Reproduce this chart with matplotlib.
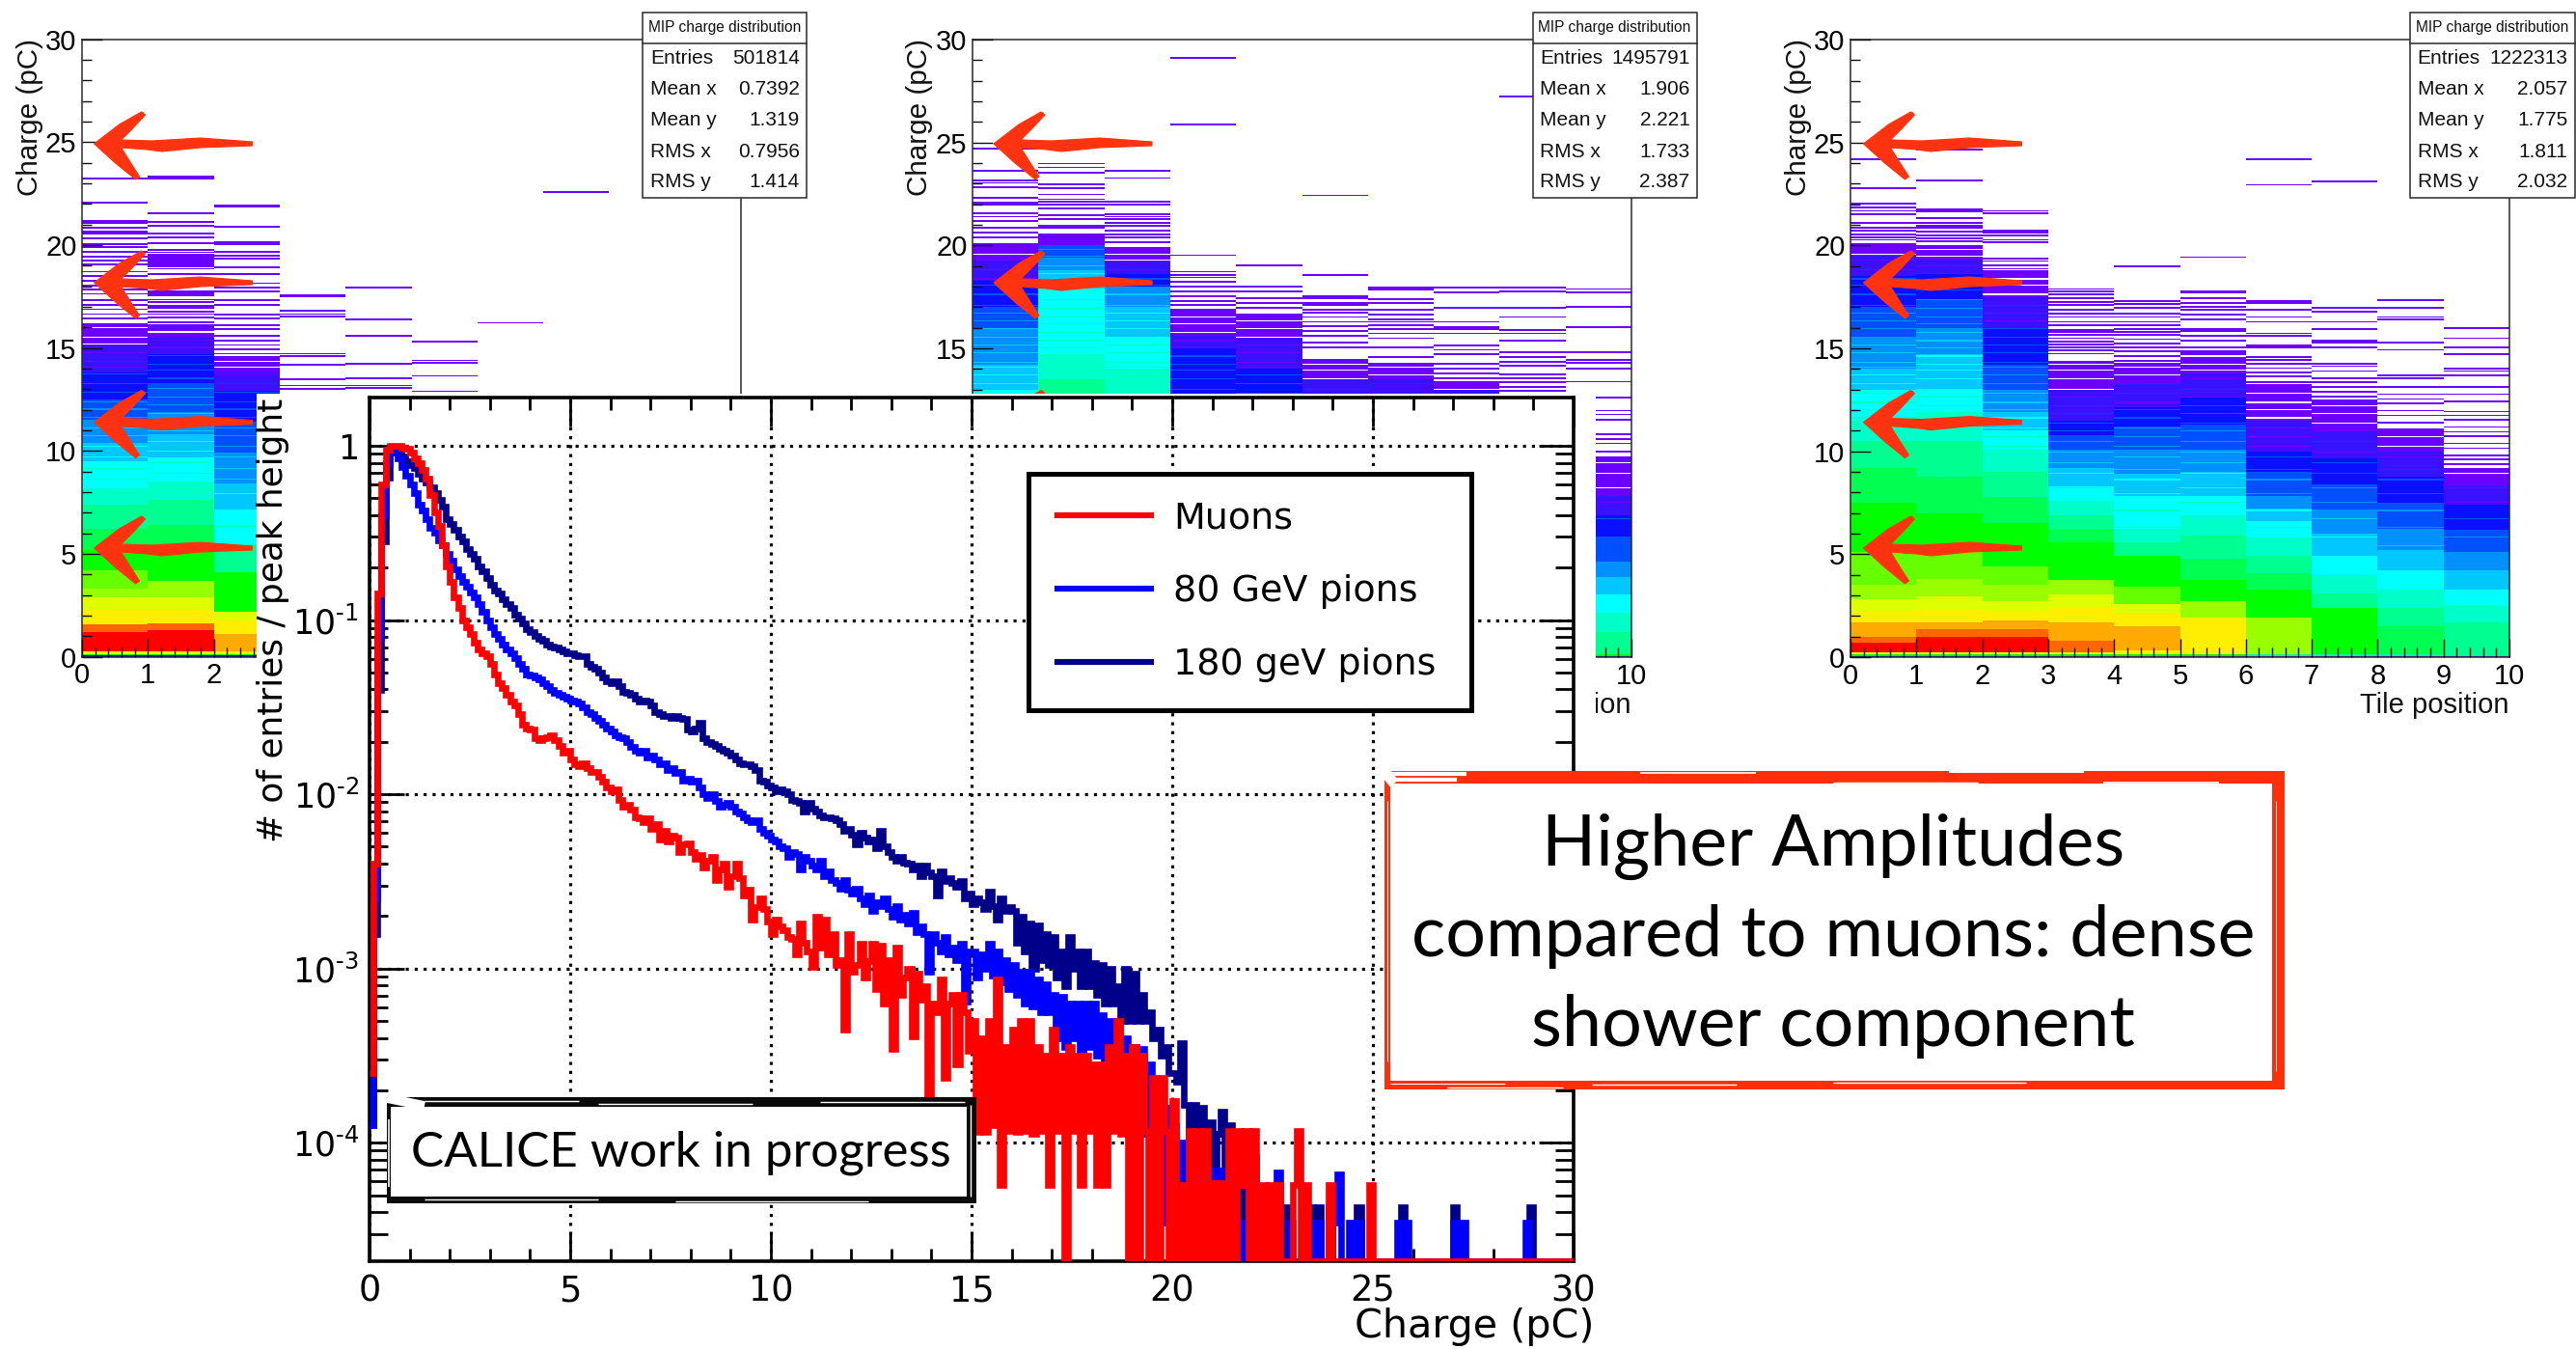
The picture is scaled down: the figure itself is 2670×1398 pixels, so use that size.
import numpy as np
import matplotlib
matplotlib.use("Agg")
import matplotlib.pyplot as plt
import matplotlib.ticker as mticker
from matplotlib.patches import Rectangle, Polygon

W, H = 2670, 1398
DPI = 100

# ---------- main plot data: log10(entries / peak height) per 0.1 pC bin ----------
Z = -4.68  # empty bin (drawn on the lower axis edge)
bin_width = 0.1
muons_log = [
 -3.6,-2.4,-.85,-.22,-.02,0,0,0,-.01,-.018,
 -.04,-.07,-.10,-.14,-.19,-.28,-.38,-.46,-.57,-.69,
 -.78,-.87,-.93,-1.0,-1.04,-1.08,-1.13,-1.17,-1.19,-1.21,
 -1.25,-1.31,-1.36,-1.39,-1.43,-1.47,-1.49,-1.54,-1.6,-1.62,
 -1.63,-1.68,-1.69,-1.68,-1.67,-1.66,-1.69,-1.72,-1.76,-1.75,
 -1.80,-1.83,-1.84,-1.82,-1.85,-1.87,-1.87,-1.90,-1.93,-1.96,
 -1.98,-1.97,-2.03,-2.07,-2.06,-2.09,-2.13,-2.14,-2.16,-2.14,
 -2.2,-2.17,-2.26,-2.21,-2.27,-2.24,-2.25,-2.33,-2.29,-2.28,
 -2.33,-2.37,-2.35,-2.42,-2.38,-2.36,-2.49,-2.43,-2.40,-2.53,
 -2.47,-2.40,-2.48,-2.58,-2.55,-2.72,-2.65,-2.60,-2.66,-2.73,
 -2.80,-2.72,-2.76,-2.78,-2.82,-2.83,-2.92,-2.74,-2.85,-2.90,
 -2.99,-2.70,-2.88,-2.72,-2.92,-2.80,-2.98,-2.95,-3.35,-2.80,
 -3.02,-2.98,-2.86,-3.05,-2.96,-2.86,-3.12,-2.87,-3.2,-2.95,
 -3.46,-2.88,-3.15,-3.05,-3.0,-3.39,-3.03,-3.18,-3.1,-3.76,
 -3.2,-3.25,-3.06,-3.63,-3.2,-3.15,-3.55,-3.15,-3.25,-3.47,
 -3.3,-3.94,-3.4,-3.94,-3.3,-3.9,-3.06,-4.24,-3.45,-3.93,
 -3.35,-3.94,-3.3,-3.93,-3.3,-3.95,-3.45,-3.93,-3.5,-4.24,
 -3.35,-3.93,-3.5,Z,-3.45,-3.93,-3.5,-4.24,-3.5,-3.93,
 -3.55,-4.24,-3.55,-4.24,-3.45,-3.93,-3.3,-3.95,-3.5,Z,
 -3.45,Z,-3.5,-3.93,Z,-3.63,Z,-3.63,-3.93,Z,
 -3.76,Z,-4.24,Z,-3.93,Z,-3.93,Z,-3.93,Z,
 -4.23,Z,-4.23,Z,-3.93,Z,-3.93,-4.24,-3.93,Z,
 -3.93,Z,-4.24,Z,-4.24,Z,-4.24,Z,Z,Z,
 -4.24,-3.93,Z,-4.24,Z,Z,Z,Z,Z,-4.24,
 Z,Z,Z,Z,Z,Z,Z,Z,Z,-4.24,
 Z,Z,Z,Z,Z,Z,Z,Z,Z,Z,
 Z,Z,Z,Z,Z,Z,Z,Z,Z,Z,
 Z,Z,Z,Z,Z,Z,Z,Z,Z,Z,
 Z,Z,Z,Z,Z,Z,Z,Z,Z,Z,
 Z,Z,Z,Z,Z,Z,Z,Z,Z,Z,
]
pions80_log = [
 -3.9,-2.6,-1.1,-.4,-.1,-.02,-.02,-.07,-.12,-.17,
 -.22,-.27,-.34,-.37,-.42,-.47,-.5,-.54,-.57,-.62,
 -.66,-.71,-.75,-.78,-.81,-.84,-.87,-.91,-.95,-1.0,
 -1.04,-1.08,-1.11,-1.14,-1.17,-1.19,-1.22,-1.25,-1.28,-1.31,
 -1.32,-1.33,-1.34,-1.36,-1.38,-1.4,-1.42,-1.43,-1.44,-1.45,
 -1.46,-1.47,-1.48,-1.5,-1.53,-1.54,-1.56,-1.58,-1.6,-1.62,
 -1.64,-1.66,-1.67,-1.68,-1.7,-1.73,-1.75,-1.76,-1.75,-1.79,
 -1.78,-1.8,-1.83,-1.82,-1.86,-1.85,-1.88,-1.87,-1.92,-1.91,
 -1.93,-1.92,-1.96,-2.0,-2.02,-2.0,-2.04,-2.07,-2.06,-2.05,
 -2.07,-2.1,-2.11,-2.13,-2.15,-2.16,-2.15,-2.2,-2.22,-2.24,
 -2.26,-2.27,-2.3,-2.31,-2.36,-2.33,-2.34,-2.43,-2.36,-2.38,
 -2.41,-2.43,-2.38,-2.47,-2.44,-2.49,-2.51,-2.54,-2.49,-2.55,
 -2.57,-2.54,-2.6,-2.63,-2.58,-2.67,-2.62,-2.64,-2.6,-2.66,
 -2.7,-2.64,-2.72,-2.69,-2.74,-2.68,-2.79,-2.76,-2.8,-3.02,
 -2.8,-2.85,-2.9,-2.82,-2.92,-2.88,-2.95,-2.86,-3.19,-2.9,
 -2.9,-3.05,-2.92,-3.0,-2.86,-3.04,-2.9,-3.08,-2.95,-3.12,
 -2.98,-3.15,-3.02,-3.2,-3.02,-3.22,-3.06,-3.25,-3.09,-3.25,
 -3.15,-3.4,-3.16,-3.45,-3.2,-3.4,-3.2,-3.5,-3.2,-3.45,
 -3.2,-3.5,-3.27,-3.6,-3.3,-3.7,-3.3,-3.75,-3.4,-3.8,
 -3.45,-3.9,-3.46,-3.95,-3.55,-4.0,-3.72,-4.46,-3.8,-4.16,
 -3.9,Z,-4.0,Z,-4.16,-4.0,Z,-4.0,Z,-4.16,
 Z,-4.16,Z,-4.46,-4.16,-4.17,Z,-4.46,Z,-4.46,
 Z,Z,Z,-4.46,Z,-4.46,-4.17,Z,Z,-4.46,
 Z,Z,Z,Z,-4.46,Z,-4.46,Z,Z,Z,
 -4.46,-4.18,Z,Z,-4.46,Z,-4.46,Z,Z,Z,
 Z,Z,Z,Z,Z,Z,-4.46,Z,-4.46,Z,
 Z,Z,Z,Z,Z,Z,Z,Z,Z,Z,
 -4.46,Z,-4.46,Z,Z,Z,Z,Z,Z,Z,
 Z,Z,Z,Z,Z,Z,Z,Z,-4.46,Z,
 Z,Z,Z,Z,Z,Z,Z,Z,Z,Z,
]
pions180_log = [
 -3.9,-2.8,-1.4,-.55,-.18,-.04,-.01,-.03,-.06,-.09,
 -.11,-.13,-.16,-.19,-.21,-.24,-.27,-.31,-.35,-.42,
 -.45,-.48,-.52,-.55,-.59,-.62,-.65,-.69,-.72,-.76,
 -.8,-.83,-.85,-.88,-.91,-.93,-.97,-.99,-1.02,-1.05,
 -1.07,-1.09,-1.11,-1.12,-1.14,-1.15,-1.16,-1.17,-1.18,-1.19,
 -1.19,-1.2,-1.21,-1.21,-1.25,-1.27,-1.28,-1.3,-1.33,-1.35,
 -1.36,-1.35,-1.38,-1.41,-1.42,-1.43,-1.45,-1.47,-1.46,-1.47,
 -1.49,-1.53,-1.54,-1.55,-1.55,-1.56,-1.55,-1.56,-1.57,-1.63,
 -1.64,-1.62,-1.59,-1.68,-1.7,-1.71,-1.72,-1.74,-1.75,-1.76,
 -1.78,-1.8,-1.82,-1.83,-1.83,-1.84,-1.86,-1.92,-1.93,-1.95,
 -1.96,-1.98,-1.97,-1.98,-2.0,-2.03,-2.04,-2.05,-2.1,-2.05,
 -2.08,-2.1,-2.12,-2.13,-2.13,-2.14,-2.15,-2.17,-2.21,-2.2,
 -2.23,-2.29,-2.22,-2.25,-2.27,-2.26,-2.31,-2.21,-2.3,-2.33,
 -2.36,-2.38,-2.36,-2.39,-2.4,-2.43,-2.41,-2.47,-2.41,-2.45,
 -2.47,-2.58,-2.44,-2.5,-2.48,-2.51,-2.53,-2.5,-2.6,-2.57,
 -2.63,-2.6,-2.62,-2.66,-2.56,-2.64,-2.72,-2.6,-2.67,-2.65,
 -2.67,-2.85,-2.7,-2.9,-2.74,-3.0,-2.75,-2.95,-2.8,-2.98,
 -2.82,-3.05,-2.9,-3.1,-2.82,-3.0,-2.9,-3.1,-2.9,-3.1,
 -2.97,-3.15,-2.98,-3.2,-3.0,-3.2,-3.1,-3.3,-3.0,-3.3,
 -3.03,-3.3,-3.15,-3.3,-3.25,-3.4,-3.35,-3.5,-3.45,-3.6,
 -3.6,-3.65,-3.43,-3.78,-4.2,-3.78,-4.2,-3.8,-4.3,-3.88,
 -4.3,-3.95,-3.82,-4.2,-3.9,-4.3,Z,-4.1,Z,-4.37,
 -4.08,Z,-4.37,Z,-4.37,Z,-4.37,Z,-4.37,Z,
 Z,Z,Z,Z,-4.37,Z,-4.37,Z,Z,-4.37,
 Z,Z,Z,Z,Z,Z,-4.37,Z,Z,Z,
 Z,Z,Z,Z,Z,Z,Z,-4.37,Z,Z,
 Z,Z,Z,Z,Z,Z,Z,Z,Z,Z,
 -4.37,Z,Z,Z,Z,Z,Z,Z,Z,Z,
 Z,Z,Z,Z,Z,Z,Z,Z,Z,-4.37,
 Z,Z,Z,Z,Z,Z,Z,Z,Z,Z,
]
series_labels = ["Muons", "80 GeV pions", "180 geV pions"]
series_colors = ["#ff0000", "#0000ff", "#00008b"]
main_xticks = [0, 5, 10, 15, 20, 25, 30]
main_yticks = [1, 1e-1, 1e-2, 1e-3, 1e-4]
main_yticklabels = ["1", r"$10^{\text{-}1}$", r"$10^{\text{-}2}$", r"$10^{\text{-}3}$", r"$10^{\text{-}4}$"]

# ---------- tile-position panels ----------
palette = ["#6a00ff", "#3a10ff", "#0a10ff", "#0050ff", "#0090ff", "#00c8ff", "#00ffff",
           "#00ffc8", "#00ff90", "#00ff50", "#00ff00", "#66ff00", "#99ff00", "#ddff00",
           "#ffee00", "#ffaa00", "#ff6600", "#ff0000"]

# each column: (upper charge edge, palette index), bottom to top
p1_bands = [
 [(.05,2),(.12,10),(.25,14),(1.2,17),(1.55,16),(2.3,14),(2.9,13),(3.3,12),(4.2,11),(5.2,10),(6.2,9),(7.4,8),(8.2,7),(9.5,6),(10.4,5),(11.5,4),(12.5,3),(13.8,2),(15.1,1),(16.2,0)],
 [(.05,2),(.12,10),(.25,14),(1.3,17),(1.6,16),(2.3,14),(2.9,13),(3.7,12),(5.2,10),(6.4,9),(7.6,8),(8.5,7),(9.7,6),(10.8,5),(11.9,4),(13.3,3),(14.7,2),(15.5,1),(16.3,0)],
 [(.05,2),(.12,10),(.25,14),(1.1,15),(1.76,14),(2.2,13),(4.1,10),(5.4,8),(7.1,6),(8.4,5),(9.9,4),(11.4,3),(12.9,2),(13.8,1),(14.6,0)],
 [], [], [], [], [], [], [],
]
p1_lines = [
 [23.18,22,21.13,21.02,20.8,20.6,20.5,20.27,20.0,19.84,19.63,19.4,19.2,19,18.66,18.44,18.2,18,17.8,17.58,17.26,17.04,16.83,16.6,16.4],
 [23.28,23.2,21.5,21.06,20.9,20.5,20.33,20.05,19.7,19.6,19.5,19.4,19.3,19.2,19.1,19.0,18.9,18.8,18.55,18.2,17.7,17.6,17.5,17.3,17.2,17.0,16.9,16.7,16.6,16.45],
 [21.88,21.84,20.85,20.1,20,19.63,19.45,19.3,18.87,18.55,18.1,17.9,17.7,17.26,17.04,16.57,16.4,16.07,15.86,15.54,15.32,15.1,14.9,14.68],
 [17.5,17.44,16.76,16.6,16.5,14.68,14.57,14.14,13.43,13.13,12.95],
 [17.9,16.35,15.54,14.18,13.5,13.13,13],
 [15.28,14.35,14.25,13.6,12.85],
 [16.18],
 [22.53],
 [], [],
]
p2_bands = [
 [(13,6),(14.2,5),(16,4),(17,3),(18.3,2),(19.3,1),(20.1,0)],
 [(13.5,8),(14.7,7),(17.9,6),(18.8,5),(19.4,4),(20.0,3),(20.6,0)],
 [(14,7),(15.5,6),(17,5),(18,4),(18.6,2),(19.2,1),(19.9,0)],
 [(15,2),(15.6,1),(16.9,0)],
 [(14,2),(15.5,1),(16.7,0)],
 [(13.5,1),(14.5,0)],
 [(13.5,1),(14.3,0)],
 [(13,1),(13.4,0)],
 [],
 [(.05,2),(.12,10),(1.2,8),(2.16,7),(3.07,6),(3.9,5),(4.66,4),(5.8,3),(6.9,2),(7.84,1),(9.77,0)],
]
p2_lines = [
 [24.66,23.57,23.1,23,22.77,22.27,22.05,21.93,21.52,21.36,21.14,20.8,20.57,20.34],
 [23.93,23.75,23.48,22.95,22.9,22.73,22.43,22.2,22.1,21.93,21.75,21.43,21.25,20.9,20.8],
 [23.57,23.23,22.07,21.93,21.48,21.36,21.25,21.07,20.9,20.68,20.5,20.34,20.11],
 [29.05,25.84,19.48,18.68,18.52,18.4,18.18,17.95,17.73,17.5,17.27,17.05],
 [18.98,17.95,17.73,17.39,17.16,16.93],
 [22.39,18.52,17.5,17.39,17.16,17.05,16.82,16.7,16.48,16.25,16.02,15.8,15.57,15.23,15.0],
 [17.9,17.8,17.34,17.16,16.82,16.6,16.36,16.25,16.1,15.91,15.68,15.45,15.0,14.55],
 [17.9,17.66,16.93,16.25,16,15.91,15.68,15.1,14.89,14.66,14.2,13.98,13.75,13.5],
 [27.2,17.9,17.73,16.93,16.48,15.86,15.68,15.34,14.77,14.55,14.32,14.1,13.68,13.52,13.3,13.07,12.88],
 [17.84,17.66,16.98,15.98,14.77,14.39,14.25,13.98,13.34,12.57,11.93,11.75,11.48,10.8,10.57,10.34,9.95],
]
p3_bands = [
 [(.05,2),(.12,10),(.23,14),(.7,17),(1.0,16),(1.7,15),(2.2,14),(2.8,13),(3.5,12),(5.1,11),(7.5,10),(9.2,9),(10.5,8),(11.5,7),(13,6),(14,5),(15.5,4),(17,3),(18.5,2),(19.5,1),(20.1,0)],
 [(.05,2),(.12,10),(.23,14),(1.0,17),(1.35,16),(1.7,15),(2.3,14),(2.95,13),(3.8,12),(5.3,11),(7,10),(8.75,9),(10.5,8),(11.9,7),(13,6),(14.7,5),(16,4),(17.4,3),(18.6,2),(19.3,1),(20,0)],
 [(.05,2),(.12,10),(.23,14),(1.0,17),(1.35,16),(1.8,15),(2.2,14),(2.7,13),(3.5,12),(4.4,11),(6.5,10),(7.8,9),(9,8),(10.1,7),(11,6),(11.9,5),(13,4),(14.2,3),(16,2),(17.5,1),(18.9,0)],
 [(.05,0),(.12,10),(.23,14),(.8,16),(1.7,15),(2.4,14),(3.07,13),(3.75,12),(5.6,10),(6.2,9),(6.9,8),(7.6,7),(8.3,6),(9.2,5),(10.1,4),(10.8,3),(11.5,2),(13,1),(14.4,0)],
 [(.05,0),(.12,10),(.34,14),(1.5,15),(2.1,14),(2.6,13),(3.4,11),(4.9,10),(5.6,8),(6.25,7),(7.84,6),(8.9,5),(10.1,4),(11.2,3),(12.16,2),(13.3,1),(14.43,0)],
 [(.05,0),(.12,10),(1.9,14),(2.7,12),(3.75,10),(4.8,9),(5.9,8),(6.9,7),(7.84,6),(9,5),(10.1,4),(11.3,3),(12.6,2),(13.8,1),(14.9,0)],
 [(.05,0),(.12,8),(1.9,12),(3.3,10),(4.1,9),(4.9,8),(5.8,7),(6.6,6),(7.2,5),(7.84,4),(9,3),(10,2),(11.5,1),(13.4,0)],
 [(.05,0),(.12,8),(2.4,10),(3.1,8),(4,7),(4.9,6),(6,5),(7.16,4),(8.4,3),(9.66,2),(11,1),(12.5,0)],
 [(.05,0),(.12,8),(1.5,9),(2.4,8),(3.3,7),(4.2,6),(5.2,5),(6.25,4),(7.5,3),(8.75,2),(10,1),(11.1,0)],
 [(.05,0),(.12,8),(1.7,8),(2.5,7),(3.3,6),(4.2,5),(5.1,4),(6.2,3),(7.4,2),(8.3,1),(9.2,0)],
]
p3_lines = [
 [24.14,22.73,22,21.82,21.64,21.48,21.07,20.8,20.68,20.5,20.34,20.23],
 [24.6,23.1,21.7,21.6,21.3,21.07,20.9,20.8,20.64,20.45,20.3,20.16],
 [21.64,21.52,20.68,20.57,20.45,20.23,20.11,19.3,19.2,18.98],
 [17.84,17.73,17.57,17.39,17.2,17.05,16.82,16.66,16.48,16.25,16.09,15.86,15.75,15.6,15.45,15.3,15.15,15.0,14.85,14.7],
 [18.93,17.27,17.11,16.93,16.66,16.48,16.25,16.1,15.9,15.75,15.6,15.4,15.2,15.0,14.8,14.6],
 [19.39,17.73,17.66,17.39,17.16,16.98,16.82,16.59,16.36,15.91,15.8,15.57,15.34,15.0,14.66],
 [24.14,22.9,17.27,17.16,16.82,16.48,16.25,15.68,15.57,15.11,15,14.55,14.4,14.2,14.0,13.8,13.6],
 [23.07,16.93,16.75,16.25,15.91,15.34,15.23,15,14.2,14.09,13.86,13.52,13.3,13.07,12.84,12.61],
 [17.32,16.93,16.48,16.36,15.23,14.89,13.64,13.52,13.07,12.73,12.5,12.27,11.93,11.7,11.36],
 [15.95,15.45,15,14.66,13.98,13.86,13.64,13.07,12.73,12.39,11.89,11.7,11.48,11.14,10.9,10.68,10.34,10.11,9.77,9.55,9.32],
]
# thin lighter rows inside the dense part of the columns
stripes_a = [5.4,6.3,7.1,7.9,8.6,9.1,9.7,10.2,10.7,11.1,11.6,12.0,12.35,12.8,13.25,13.7,14.05,14.3,14.75,15.15,15.5,15.95,16.3,16.7,17.05,17.6,18.05,18.35,18.8,19.25,19.55]
stripes_b = [5.8,6.7,7.5,8.2,8.9,9.4,9.95,10.45,10.95,11.35,11.8,12.2,12.6,13.0,13.5,13.9,14.2,14.6,15.0,15.35,15.75,16.15,16.5,16.9,17.35,17.8,18.2,18.6,19.0,19.45,19.8]

stat_names = ["Entries", "Mean x", "Mean y", "RMS x", "RMS y"]
stat_p1 = ["501814", "0.7392", "1.319", "0.7956", "1.414"]
stat_p2 = ["1495791", "1.906", "2.221", "1.733", "2.387"]
stat_p3 = ["1222313", "2.057", "1.775", "1.811", "2.032"]
panel_yticks = [0, 5, 10, 15, 20, 25, 30]
panel_xticks = list(range(11))
# tick labels left visible by the sheet that holds the main plot
p1_xlabels = ["0", "1", "2", "", "", "", "", "", "", "", ""]
p1_ylabels = ["0", "5", "10", "15", "20", "25", "30"]
p2_xlabels = ["", "", "", "", "", "", "", "", "", "", "10"]
p2_ylabels = ["", "", "", "15", "20", "25", "30"]
p3_xlabels = ["0", "1", "2", "3", "4", "5", "6", "7", "8", "9", "10"]
p3_ylabels = ["0", "5", "10", "15", "20", "25", "30"]

# ---------- helpers ----------
def px(x0, y0, x1, y1):
    return [x0 / W, 1 - y1 / H, (x1 - x0) / W, (y1 - y0) / H]

fig = plt.figure(figsize=(W / DPI, H / DPI), dpi=DPI, facecolor="white")

def overlay(z):
    a = fig.add_axes([0, 0, 1, 1], zorder=z)
    a.set_xlim(0, W)
    a.set_ylim(H, 0)
    a.axis("off")
    a.patch.set_alpha(0)
    return a

ROOT_FONT = "Liberation Sans"
EDGE = "#2a2a2a"

def draw_panel(rect, bands, lines, xlabels, ylabels):
    ax = fig.add_axes(px(*rect), zorder=1)
    ax.set_xlim(0, 10)
    ax.set_ylim(0, 30)
    for col in range(10):
        low = 0.0
        stripes = stripes_a if col % 2 == 0 else stripes_b
        for top, idx in bands[col]:
            ax.barh(low, 1, height=top - low, left=col, align="edge", color=palette[idx], linewidth=0, antialiased=False)
            for s in stripes:
                if low <= s < top and idx <= 6:
                    if idx == 0:
                        c = "white"
                    elif idx == 1:
                        c = palette[0]
                    else:
                        c = palette[idx + 1]
                    ax.barh(s, 1, height=0.05, left=col, align="edge", color=c, linewidth=0, antialiased=False)
            low = top
        for q in lines[col]:
            ax.barh(q, 1, height=0.085, left=col, align="edge", color=palette[0], linewidth=0, antialiased=False)
    ax.set_xticks(panel_xticks)
    ax.set_xticklabels(xlabels)
    ax.set_yticks(panel_yticks)
    ax.set_yticklabels(ylabels)
    ax.set_yticks(range(31), minor=True)
    ax.set_xticks(np.arange(0, 10.01, 0.2), minor=True)
    ax.tick_params(which="major", direction="in", length=14, width=1.0, color="#111111", labelsize=21, pad=4)
    ax.tick_params(axis="y", which="major", length=15)
    ax.tick_params(which="minor", direction="in", length=7, width=1.0, color="#111111")
    for lab in ax.get_xticklabels() + ax.get_yticklabels():
        lab.set_fontfamily(ROOT_FONT)
    ax.set_axisbelow(False)
    for s in ax.spines.values():
        s.set_linewidth(1.1)
        s.set_color(EDGE)
    return ax

def stat_box(ov, x0, x1, values):
    ov.add_patch(Rectangle((x0, 13), x1 - x0, 192, facecolor="white", edgecolor=EDGE, linewidth=1.1))
    ov.plot([x0, x1], [44.6, 44.6], color=EDGE, lw=1.1)
    ov.text((x0 + x1) / 2, 28.5, "MIP charge distribution", ha="center", va="center", fontsize=11.2, family=ROOT_FONT, color="#111111")
    for name, val, y in zip(stat_names, values, [60.6, 92, 124, 157.5, 189]):
        ov.text(x0 + 8, y, name, ha="left", va="center", fontsize=15, family=ROOT_FONT, color="#111111")
        ov.text(x1 - 7, y, val, ha="right", va="center", fontsize=15, family=ROOT_FONT, color="#111111")

ARROW = "#ff3310"
arrow_outline = [(0,0),(26,-20),(49,-33),(53,-30),(40,-16),(28,-4),(60,-3),(110,-6),(164,-2),(164,2),(110,4),(70,8),(55,6),(28,4),(38,20),(47,34),(43,37),(22,20)]
arrow_strokes = [((3,-1),(51,-32)),((5,1),(45,35)),((10,-3),(48,-28)),((10,3),(42,30)),((20,-2),(150,0)),((40,2),(160,-1))]

def arrow(ov, tipx, tipy):
    pts = [(tipx + a, tipy + b) for a, b in arrow_outline]
    ov.add_patch(Polygon(pts, closed=True, facecolor=ARROW, edgecolor=ARROW, linewidth=0.8))
    for (a, b), (c, d) in arrow_strokes:
        ov.plot([tipx + a, tipx + c], [tipy + b, tipy + d], color=ARROW, lw=1.0, alpha=0.9)

# ---------- background panels ----------
rects = [(85, 40.5, 768, 680.5), (1008, 41, 1691, 681), (1918, 41, 2601, 681)]
axes = [draw_panel(rects[0], p1_bands, p1_lines, p1_xlabels, p1_ylabels),
        draw_panel(rects[1], p2_bands, p2_lines, p2_xlabels, p2_ylabels),
        draw_panel(rects[2], p3_bands, p3_lines, p3_xlabels, p3_ylabels)]
ylab_x = [31, 953, 1864]

ov1 = overlay(2)
for xl in ylab_x:
    ov1.text(xl, 40, "Charge (pC)", rotation=90, ha="center", va="top", fontsize=21.3, family=ROOT_FONT, color="#111111")
for rect in rects[1:]:
    ov1.text(rect[2], 731, "Tile position", ha="right", va="center", fontsize=21, family=ROOT_FONT, color="#111111")
stat_box(ov1, 666, 836, stat_p1)
stat_box(ov1, 1588.5, 1758.5, stat_p2)
stat_box(ov1, 2497.5, 2668.5, stat_p3)
for tip_x, ys in [(97.6, [149, 293, 437.6, 568]), (1030, [149, 293, 437.6, 568]), (1931.5, [149, 293, 437.6, 568])]:
    for y in ys:
        arrow(ov1, tip_x, y)

# ---------- white sheet holding the main plot ----------
ov2 = overlay(3)
ov2.add_patch(Rectangle((266, 408), 1388, 990, facecolor="white", edgecolor="none"))

# ---------- main plot ----------
axm = fig.add_axes(px(383, 412, 1631, 1307), zorder=4)
handles = []
for vals, col, lab, z in [(muons_log, series_colors[0], series_labels[0], 5),
                          (pions80_log, series_colors[1], series_labels[1], 4),
                          (pions180_log, series_colors[2], series_labels[2], 3)]:
    edges = bin_width * np.arange(len(vals) + 1)
    y = 10.0 ** np.array(vals)
    axm.stairs(y, edges, color=col, linewidth=4.8, baseline=None, zorder=z, label=lab)
    handles.append(plt.Line2D([], [], color=col, lw=4.4, label=lab))
axm.set_yscale("log")
axm.set_xlim(0, 30)
axm.set_ylim(10 ** -4.68, 10 ** 0.277)
axm.set_xticks(main_xticks)
axm.set_xticks(range(31), minor=True)
axm.set_yticks(main_yticks)
axm.set_yticklabels(main_yticklabels)
axm.yaxis.set_minor_locator(mticker.LogLocator(base=10, subs=range(2, 10), numticks=12))
axm.yaxis.set_minor_formatter(mticker.NullFormatter())
axm.tick_params(axis="x", which="major", direction="in", length=21.5, width=2.0, top=True, bottom=True, labelsize=26.5, pad=9)
axm.tick_params(axis="x", which="minor", direction="in", length=9.5, width=2.0, top=True, bottom=True)
axm.tick_params(axis="y", which="major", direction="in", length=26, width=2.0, left=True, right=True, labelsize=25, pad=8)
axm.tick_params(axis="y", which="minor", direction="in", length=13.5, width=2.0, left=True, right=True)
axm.grid(True, which="major", color="black", linewidth=2.3, linestyle=(0, (1, 1.9)))
axm.set_axisbelow(True)
for s in axm.spines.values():
    s.set_linewidth(2.6)
axm.set_xlabel("Charge (pC)", fontsize=29.7, loc="right")
axm.xaxis.set_label_coords((1652 - 383) / 1248, -(1355 - 1307) / 895)
axm.set_ylabel("# of entries / peak height", fontsize=25.8)
axm.yaxis.set_label_coords((300 - 383) / 1248, (1307 - 643) / 895)

# legend frame is its own box so its size can follow the reference exactly
axm.add_patch(Rectangle((1065.5 / W, 1 - 736 / H), (1524.6 - 1065.5) / W, (736 - 490.5) / H,
                        transform=fig.transFigure, facecolor="white", edgecolor="black",
                        linewidth=3.6, zorder=15, clip_on=False))
leg = axm.legend(handles=handles, loc="upper left", bbox_to_anchor=(1065.5 / W, 1 - 489 / H),
                 bbox_transform=fig.transFigure, fontsize=27.4, frameon=False,
                 handlelength=2.55, handletextpad=0.6, borderpad=0.8,
                 labelspacing=1.05, borderaxespad=0)
leg.set_zorder(20)

# ---------- hand-drawn looking boxes ----------
ov3 = overlay(6)

def sketch_box(outer, inner, color, streaks):
    x0, y0, x1, y1 = outer
    ov3.add_patch(Rectangle((x0, y0), x1 - x0, y1 - y0, facecolor=color, edgecolor="none"))
    a0, b0, a1, b1 = inner
    ov3.add_patch(Rectangle((a0, b0), a1 - a0, b1 - b0, facecolor="white", edgecolor="none"))
    for xa, xb, ya, yb, lw in streaks:
        ov3.plot([xa, xb], [ya, yb], color="white", lw=lw, solid_capstyle="butt")

red_streaks = [(1435, 1445, 799, 812, 8), (1435, 1520, 802, 802, 3), (1440, 1510, 808, 808, 3), (1700, 1820, 801, 801, 1.2),
               (2020, 2160, 800, 800, 1.4), (1900, 2050, 811, 811, 1), (2180, 2300, 811, 811, 1.2),
               (1500, 1620, 1127, 1127, 1), (1650, 1800, 1124, 1124, 1), (1900, 2100, 1122, 1122, 1),
               (1441, 1560, 1123, 1123, 0.8), (2359, 2359, 830, 1110, 0.7), (1438, 1438, 830, 1100, 0.7)]
sketch_box((1435, 799, 2367.5, 1129), (1441, 812, 2355, 1120), "#ff2f0c", red_streaks)
ov3.text(1900, 897, "Higher Amplitudes", ha="center", va="baseline", fontsize=53, family="Lato", color="black")
ov3.text(1900, 991, "compared to muons: dense", ha="center", va="baseline", fontsize=53, family="Lato", color="black")
ov3.text(1900, 1084, "shower component", ha="center", va="baseline", fontsize=53, family="Lato", color="black")

black_streaks = [(401, 440, 1138, 1146, 7), (440, 600, 1141, 1141, 1), (620, 780, 1144, 1144, 1), (850, 1000, 1142, 1142, 1),
                 (440, 620, 1243, 1243, 1), (700, 900, 1245, 1245, 1), (1006, 1006, 1145, 1240, 1), (403, 403, 1160, 1230, 1.2)]
sketch_box((401, 1137, 1011.5, 1247), (405, 1147, 1002, 1240), "#0a0a0a", black_streaks)
ov3.text(706, 1208, "CALICE work in progress", ha="center", va="baseline", fontsize=36.8, family="Lato", color="black")

fig.savefig("out.png", dpi=DPI, facecolor="white")
